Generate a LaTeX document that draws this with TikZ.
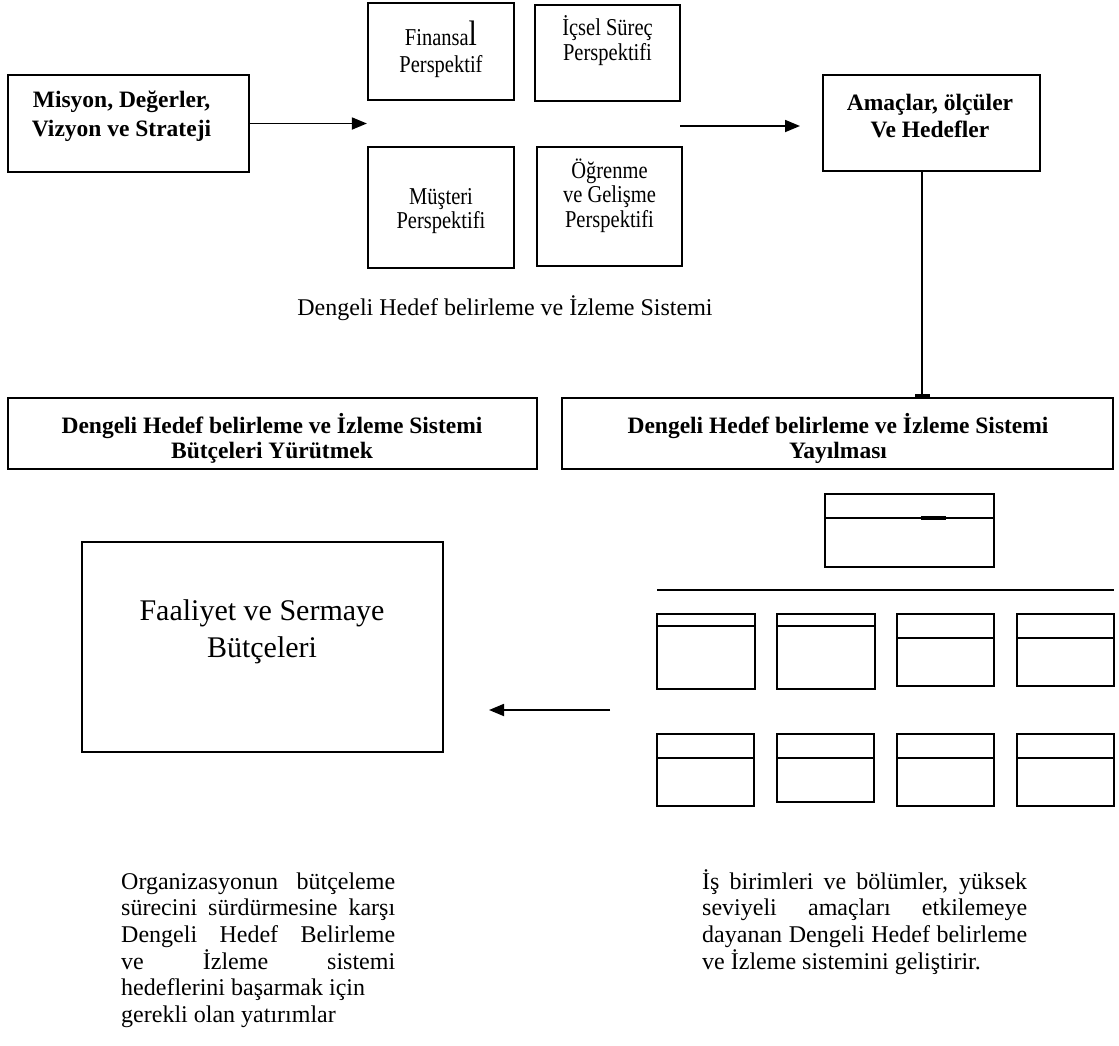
\documentclass[tikz,border=0pt]{standalone}
\usepackage{fontspec}
\setmainfont{Liberation Serif}
\usetikzlibrary{arrows.meta,fit}
% stacked, centred lines whose baseline is the first line's baseline
\newcommand\stackl[1]{\begin{tabular}[t]{@{}c@{}}#1\end{tabular}}
% same, drawn a little taller than wide
\newcommand\tallstack[1]{\raisebox{0pt}{\scalebox{1}[1.18]{\stackl{#1}}}}
\newcommand\fs[2]{\fontsize{#1}{#2}\selectfont}
% one justified line of a fixed-width paragraph
\newcommand\jl[2]{\makebox[#1][s]{#2}}
\begin{document}
\begin{tikzpicture}[x=1pt,y=-1pt,
  frame/.style={draw, line width=2.2pt, inner sep=0pt},
  heavy/.style={frame, line width=2.6pt},
  txt/.style={anchor=base, inner sep=0pt},
  flow/.style={line width=1.8pt, -{Triangle[length=15pt,width=12pt]}},
  rule/.style={line width=2pt},
]
\useasboundingbox (0,0) rectangle (1119,1045);

% --- mission box and the four perspectives ---
\node[heavy, fit={(8,75) (249,172)}] (misyon) {};
\node[txt, font=\bfseries\fs{23.5}{29}] (misyon-t) at (121.5,107)
  {\stackl{Misyon, Değerler,\\Vizyon ve Strateji}};

\node[frame, fit={(368,3) (514,100)}] (fin) {};
\node[txt, font=\fs{20.5}{23}] (fin-t) at (441,45)
  {\tallstack{Finansa{\fs{30}{30}l}\\Perspektif}};
\node[frame, fit={(535,5) (680,101)}] (ics) {};
\node[txt, font=\fs{20.5}{22}] (ics-t) at (607.5,35)
  {\tallstack{İçsel Süreç\\Perspektifi}};
\node[frame, fit={(368,147) (514,268)}] (mus) {};
\node[txt, font=\fs{20.5}{21}] (mus-t) at (441,204)
  {\tallstack{Müşteri\\Perspektifi}};
\node[frame, fit={(537,147) (682,266)}] (ogr) {};
\node[txt, font=\fs{20.5}{21}] (ogr-t) at (609.5,178)
  {\tallstack{Öğrenme\\ve Gelişme\\Perspektifi}};

\node[heavy, fit={(823,75) (1040,171)}] (amac) {};
\node[txt, font=\bfseries\fs{23.5}{27}] (amac-t) at (930,110)
  {\stackl{Amaçlar, ölçüler\\Ve Hedefler}};

\draw[flow] (misyon.east) -- (misyon.east -| fin.west);
\coordinate (out2) at (680,126);
\coordinate (in2) at (800,126);
\draw[flow] (out2) -- (in2);

\node[txt, font=\fs{24}{28}] (caption) at (505,315)
  {Dengeli Hedef belirleme ve İzleme Sistemi};

% --- budgeting and cascading headers ---
\node[heavy, fit={(8,398) (537,469)}] (yur) {};
\node[txt, font=\bfseries\fs{23.5}{25}] (yur-t) at (272,433)
  {\stackl{Dengeli Hedef belirleme ve İzleme Sistemi\\Bütçeleri Yürütmek}};
\node[heavy, fit={(562,398) (1113,469)}] (yay) {};
\node[txt, font=\bfseries\fs{23.5}{25}] (yay-t) at (838,433)
  {\stackl{Dengeli Hedef belirleme ve İzleme Sistemi\\Yayılması}};

\coordinate (spine) at (922,0);
\draw[line width=1.6pt, -{Bar[width=15pt,line width=3pt]}]
  (spine |- amac.south) -- (spine |- yay.north);

% --- budgets ---
\node[frame, fit={(82,542) (443,752)}] (faal) {};
\node[txt, font=\fs{30}{37}] (faal-t) at (262,620)
  {\stackl{Faaliyet ve Sermaye\\Bütçeleri}};
\coordinate (from3) at (610,710);
\coordinate (to3) at (489,710);
\draw[flow] (from3) -- (to3);

% --- organisation chart ---
\node[frame, fit={(825,494) (994,567)}] (head) {};
\draw[rule] (825,518) -- (994,518);
\draw[line width=3.5pt] (921,518) -- (946,518);
\draw[rule] (657,590) -- (1114,590);
\foreach \l/\r/\t/\d/\b [count=\i] in {
  657/755/614/626/689, 777/875/614/626/689,
  897/994/614/638/686, 1017/1114/614/638/686,
  657/754/734/758/806, 777/874/734/758/802,
  897/994/734/758/806, 1017/1114/734/758/806}
{
  \node[frame, fit={(\l,\t) (\r,\b)}] (unit\i) {};
  \draw[rule] (\l,\d) -- (\r,\d);
}

% --- explanatory paragraphs ---
\node[txt, anchor=base west, font=\fs{24}{26.7}] (left-p) at (121,889)
  {\parbox[t]{274pt}{%
    \jl{274pt}{Organizasyonun bütçeleme}\\
    \jl{274pt}{sürecini sürdürmesine karşı}\\
    \jl{274pt}{Dengeli Hedef Belirleme}\\
    \jl{274pt}{ve İzleme sistemi}\\
    hedeflerini başarmak için\\
    gerekli olan yatırımlar}};
\node[txt, anchor=base west, font=\fs{24}{26.7}] (right-p) at (702,889)
  {\parbox[t]{325pt}{%
    \jl{325pt}{İş birimleri ve bölümler, yüksek}\\
    \jl{325pt}{seviyeli amaçları etkilemeye}\\
    \jl{325pt}{dayanan Dengeli Hedef belirleme}\\
    ve İzleme sistemini geliştirir.}};
\end{tikzpicture}
\end{document}
